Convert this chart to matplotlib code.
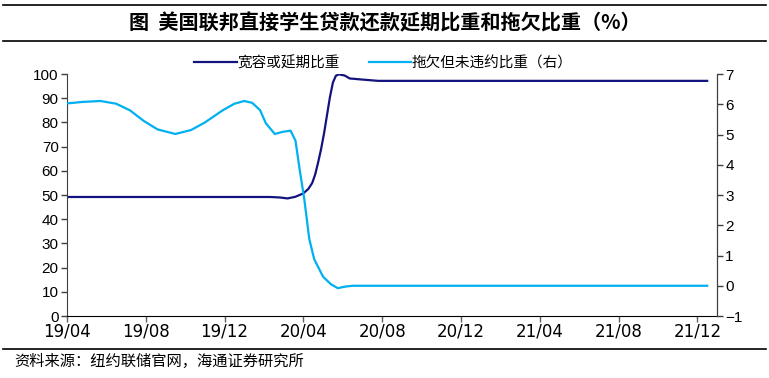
#美国联邦直接学生贷款还款延期比重与拖欠比重
import matplotlib.pyplot as plt
from matplotlib.lines import Line2D
from matplotlib.transforms import ScaledTranslation

plt.rcParams['font.family'] = ['Noto Sans CJK SC', 'DejaVu Sans']

# 月份索引（0 = 19/04）
tick_labels = ["19/04", "19/08", "19/12", "20/04", "20/08",
               "20/12", "21/04", "21/08", "21/12"]
tick_pos = [0, 4, 8, 12, 16, 20, 24, 28, 32]

defer_x = [0, 10.3, 10.8, 11.2, 11.6, 12.0, 12.25, 12.45, 12.6, 12.75,
           12.9, 13.05, 13.2, 13.35, 13.5, 13.65, 13.8, 14.1, 14.35,
           14.9, 15.8, 32.5]
defer_y = [49.2, 49.2, 49.0, 48.6, 49.3, 50.7, 52.5, 55.0, 58.5, 63.5,
           69.0, 75.5, 83.0, 90.5, 96.5, 99.3, 99.9, 99.4, 98.2,
           97.8, 97.2, 97.2]

late_x = [0.0, 0.8, 1.7, 2.5, 3.2, 3.9, 4.6, 5.5, 6.3, 7.0, 7.9, 8.5,
          9.0, 9.4, 9.8, 10.1, 10.55, 10.95, 11.35, 11.6, 11.8, 12.05,
          12.3, 12.55, 13.0, 13.4, 13.75, 14.1, 14.5, 32.5]
late_y = [6.03, 6.08, 6.11, 6.02, 5.8, 5.45, 5.17, 5.02, 5.15, 5.4, 5.8,
          6.02, 6.11, 6.05, 5.81, 5.37, 5.02, 5.09, 5.13, 4.8, 3.9, 2.85,
          1.55, 0.88, 0.30, 0.05, -0.08, -0.03, 0.0, 0.0]

fig = plt.figure(figsize=(7.69, 3.78), dpi=100)
ax = fig.add_axes([0.0871, 0.164, 0.8453, 0.640])
ax2 = ax.twinx()

l1, = ax.plot(defer_x, defer_y, color="#13137F", lw=1.6, label="宽容或延期比重")
l2, = ax2.plot(late_x, late_y, color="#00B0F0", lw=1.6, label="拖欠但未违约比重（右）")

ax.set_xlim(0, 33)
ax.set_ylim(0, 100)
ax.set_yticks(range(0, 101, 10))
ax2.set_ylim(-1, 7)
ax2.set_yticks(range(-1, 8))
ax.set_xticks(tick_pos)
ax.set_xticklabels(tick_labels, family="Liberation Sans Narrow", fontsize=12)
# Excel 的标签相对刻度略向右偏
shift = ScaledTranslation(9 / 100, 0, fig.dpi_scale_trans)
for lab in ax.get_xticklabels():
    lab.set_transform(lab.get_transform() + shift)
for lab in ax.get_yticklabels() + ax2.get_yticklabels():
    lab.set_family("Liberation Sans")
    lab.set_fontsize(11)

for a in (ax, ax2):
    a.spines["top"].set_visible(False)
    a.tick_params(direction="out", length=4, width=1, colors="#404040",
                  labelcolor="black", pad=2)
ax.tick_params(axis="x", colors="#606060", labelcolor="black", pad=1)
ax.spines["left"].set_color("#404040")
ax2.spines["right"].set_color("#404040")
ax.spines["bottom"].set_color("black")
ax2.spines["left"].set_visible(False)
ax2.spines["bottom"].set_visible(False)

fig.legend(handles=[l1, l2], loc="center", bbox_to_anchor=(0.4987, 0.833),
           ncol=2, frameon=False, fontsize=10.5, handlelength=2.9,
           handletextpad=0.05, columnspacing=2.0)

# 标题与上下分隔线
fig.add_artist(Line2D([0.004, 0.996], [0.987, 0.987], color="black", lw=1.2))
fig.add_artist(Line2D([0.004, 0.996], [0.892, 0.892], color="black", lw=1.2))
fig.add_artist(Line2D([0.004, 0.996], [0.077, 0.077], color="black", lw=1.2))
fig.text(0.5, 0.939, "图  美国联邦直接学生贷款还款延期比重和拖欠比重（%）",
         ha="center", va="center", fontsize=14.5, fontweight="bold")
fig.text(0.018, 0.044, "资料来源：纽约联储官网，海通证券研究所",
         ha="left", va="center", fontsize=11)

fig.savefig("out.png", dpi=100)
